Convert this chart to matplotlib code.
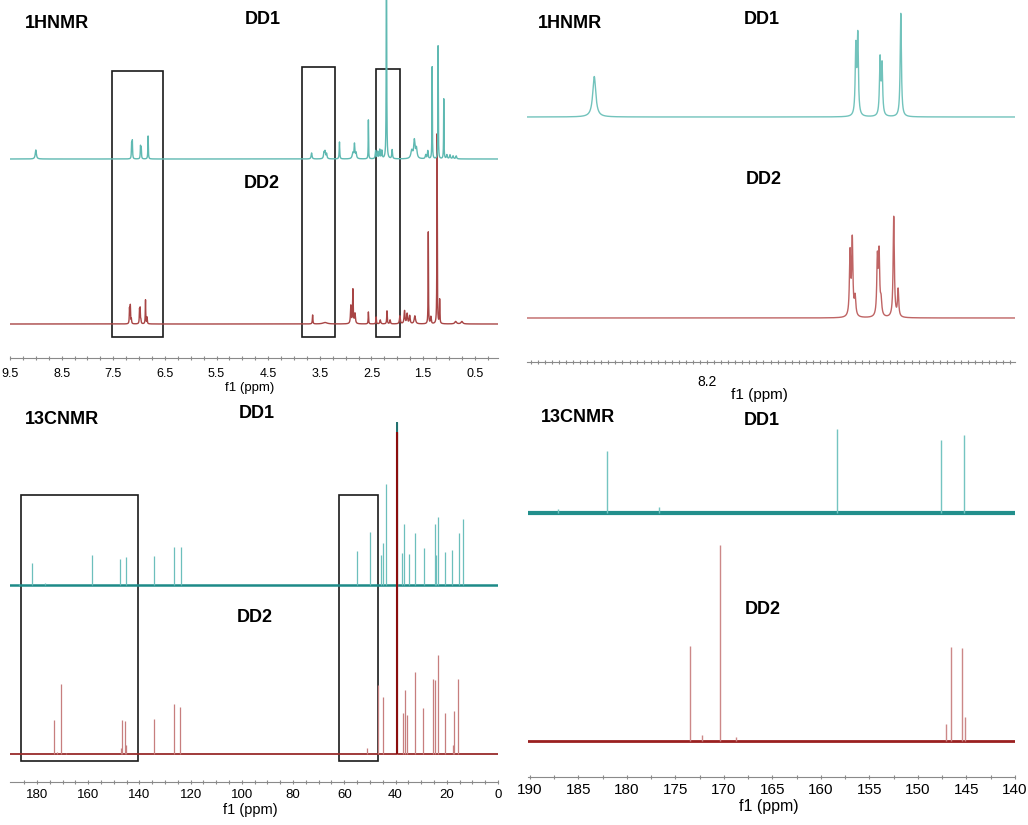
import numpy as np
import matplotlib.pyplot as plt
from matplotlib.patches import Rectangle

plt.rcParams['font.family'] = ['Liberation Sans', 'DejaVu Sans']

# ---- 1H NMR peak tables (shift ppm, height, half width ppm) ----
h1_dd1_ppm = [9.00, 7.145, 7.131, 6.973, 6.959, 6.826, 3.66, 3.42, 3.40, 3.37, 3.12,
              2.86, 2.83, 2.80, 2.56, 2.42, 2.38, 2.34, 2.30, 2.21, 2.10,
              1.72, 1.67, 1.63, 1.45, 1.41, 1.325, 1.21, 1.10, 1.04, 0.98, 0.92, 0.86]
h1_dd1_int = [9, 15, 17.5, 12.5, 11, 23, 6, 6, 7, 5, 17,
              6, 14, 6, 39, 8, 7, 9, 8, 320, 9,
              8, 18, 10, 4, 8, 92, 113, 60, 4, 4, 3, 3]
h1_dd1_hw = [0.013, 0.005, 0.005, 0.005, 0.005, 0.005, 0.01, 0.01, 0.01, 0.01, 0.006,
             0.015, 0.008, 0.012, 0.004, 0.008, 0.008, 0.008, 0.008, 0.004, 0.008,
             0.02, 0.015, 0.015, 0.01, 0.008, 0.004, 0.004, 0.004, 0.01, 0.01, 0.01, 0.01]

h1_dd2_ppm = [7.186, 7.170, 7.150, 6.992, 6.980, 6.966, 6.876, 6.845, 3.64, 3.40,
              2.90, 2.86, 2.82, 2.56, 2.41, 2.33, 2.20, 2.14, 1.95, 1.86, 1.81, 1.76,
              1.66, 1.40, 1.35, 1.23, 1.18, 0.87, 0.75]
h1_dd2_int = [15, 18, 4.5, 13.5, 14.5, 3.5, 24, 6.5, 9, 1.5,
              18, 34, 10, 12, 7, 4, 13, 4, 8, 13, 10, 8,
              8, 92, 7, 190, 24, 2.5, 2.5]
h1_dd2_hw = [0.005, 0.005, 0.006, 0.005, 0.005, 0.006, 0.005, 0.005, 0.006, 0.05,
             0.008, 0.007, 0.01, 0.005, 0.006, 0.01, 0.006, 0.008, 0.01, 0.01, 0.01, 0.01,
             0.015, 0.004, 0.008, 0.004, 0.005, 0.02, 0.02]

h1_zoom_dd1 = 4.5   # vertical expansion of the aromatic close-up
h1_zoom_dd2 = 4.2

# ---- 13C NMR peak tables (shift ppm, height) ----
c13_dd1_ppm = [187.1, 182.1, 176.7, 158.3, 147.6, 145.3, 134.3, 126.5, 123.9, 54.9, 50.0,
               45.8, 45.0, 43.7, 39.4, 37.4, 36.6, 34.6, 32.5, 29.0, 24.6, 24.3, 23.5,
               20.7, 18.0, 15.1, 13.8]
c13_dd1_int = [1.5, 22, 2, 30, 26, 28, 29, 38, 38, 34, 53,
               30, 42, 101, 163, 32, 61, 31, 52, 37, 61, 30, 68,
               33, 35, 52, 66]
c13_dd2_ppm = [173.5, 172.3, 170.4, 168.8, 147.1, 146.6, 145.5, 145.2, 134.2, 126.6, 124.2,
               51.2, 46.7, 44.8, 39.5, 37.2, 36.3, 35.5, 32.5, 29.2, 25.3, 24.5, 23.5,
               20.7, 17.7, 17.2, 15.7]
c13_dd2_int = [34, 2, 70, 1.5, 6, 33.6, 33.2, 8.6, 35, 50, 47,
               6, 69, 57, 322, 41, 64, 39, 82, 46, 75, 74, 99,
               41, 9, 43, 75]
c13_zoom = 2.8

# highlighted regions (ppm)
h1_boxes = [(7.52, 6.53), (3.84, 3.20), (2.41, 1.95)]
c13_boxes = [(186.1, 140.7), (62.1, 47.0)]

h1_ticks = [9.5, 8.5, 7.5, 6.5, 5.5, 4.5, 3.5, 2.5, 1.5, 0.5]
h1_zoom_ticks = [8.2]
c13_ticks = [180, 160, 140, 120, 100, 80, 60, 40, 20, 0]
c13_zoom_ticks = [190, 185, 180, 175, 170, 165, 160, 155, 150, 145, 140]

W, H = 1028, 825
fig = plt.figure(figsize=(W / 100, H / 100), dpi=100)


def px_axes(left, top, right, bottom):
    ax = fig.add_axes([left / W, 1 - bottom / H, (right - left) / W, (bottom - top) / H])
    ax.patch.set_alpha(0)
    for s in ['top', 'left', 'right']:
        ax.spines[s].set_visible(False)
    ax.spines['bottom'].set_color('#8a8a8a')
    ax.set_yticks([])
    return ax


def lorentz(grid, ppm, amp, hw, scale=1.0):
    y = np.zeros_like(grid)
    for p, a, w in zip(ppm, amp, hw):
        y += scale * a / (1 + ((grid - p) / w) ** 2)
    return y


def style_ticks(ax, ticks, minor, size, pad):
    ax.set_xticks(ticks)
    ax.set_xticklabels([f'{t:g}' for t in ticks], fontsize=size)
    ax.set_xticks(minor, minor=True)
    ax.tick_params(axis='x', which='both', direction='inout', color='#8a8a8a',
                   length=3, width=0.8, pad=pad)


def text(x, y, s, size=13, bold=True):
    fig.text(x / W, 1 - y / H, s, ha='center', va='center', fontsize=size,
             fontweight='bold' if bold else 'normal')


# ---- panel 1: full 1H ----
ax1 = px_axes(10, 0, 498, 358)
ax1.set_xlim(9.5, 0.05)
ax1.set_ylim(0, 358)
g1 = np.linspace(9.5, 0.05, 24000)
ax1.plot(g1, 34 + lorentz(g1, h1_dd2_ppm, h1_dd2_int, h1_dd2_hw), color='#a84545', lw=1.0)
ax1.plot(g1, 199 + lorentz(g1, h1_dd1_ppm, h1_dd1_int, h1_dd1_hw), color='#5fb9b2', lw=1.0)
for (a, b), top in zip(h1_boxes, [287, 291, 289]):
    ax1.add_patch(Rectangle((b, 21), a - b, top - 21, fill=False, ec='#1a1a1a', lw=1.2))
style_ticks(ax1, h1_ticks, [t / 4 for t in range(1, 38)], 9, 5.5)
text(57, 23, '1HNMR')
text(263, 20, 'DD1')
text(262, 184, 'DD2')
text(250, 388, 'f1 (ppm)', size=9.5, bold=False)

# ---- panel 2: aromatic 1H close-up ----
ax2 = px_axes(527, 0, 1015, 362)
ax2.set_xlim(9.477, 6.016)
ax2.set_ylim(0, 362)
g2 = np.linspace(9.477, 6.016, 12000)
ax2.plot(g2, 44 + lorentz(g2, h1_dd2_ppm, h1_dd2_int, h1_dd2_hw, h1_zoom_dd2), color='#bf6464', lw=1.0)
ax2.plot(g2, 245 + lorentz(g2, h1_dd1_ppm, h1_dd1_int, h1_dd1_hw, h1_zoom_dd1), color='#72c3bc', lw=1.0)
style_ticks(ax2, h1_zoom_ticks, [t / 20 for t in range(121, 190)], 10, 8)
text(570, 23, '1HNMR')
text(762, 20, 'DD1')
text(764, 179, 'DD2')
text(759, 395, 'f1 (ppm)', size=11, bold=False)

# ---- panel 3: full 13C ----
ax3 = px_axes(10, 400, 498, 782)
ax3.set_xlim(190.5, 0)
ax3.set_ylim(0, 382)
ax3.axhline(197, color='#1d8a88', lw=1.8)
ax3.vlines(c13_dd1_ppm, 197, [197 + h for h in c13_dd1_int], color='#6cbfbc', lw=0.9)
ax3.vlines([39.4], 197, 197 + 163, color='#1f6f6d', lw=1.4)
ax3.axhline(28, color='#982b2b', lw=1.3)
ax3.vlines(c13_dd2_ppm, 28, [28 + h for h in c13_dd2_int], color='#c77e7e', lw=0.9)
ax3.vlines([39.5], 28, 28 + 322, color='#8b0d0d', lw=1.5)
for a, b in c13_boxes:
    ax3.add_patch(Rectangle((b, 21), a - b, 266, fill=False, ec='#1a1a1a', lw=1.2))
style_ticks(ax3, c13_ticks, list(range(5, 190, 5)), 9.5, 3.5)
text(62, 420, '13CNMR')
text(257, 413, 'DD1')
text(255, 618, 'DD2')
text(250, 810, 'f1 (ppm)', size=10.5, bold=False)

# ---- panel 4: 13C close-up 190-140 ppm ----
ax4 = px_axes(528, 400, 1015, 777)
ax4.set_xlim(190.2, 140.15)
ax4.set_ylim(0, 377)
ax4.axhline(264, color='#228f8c', lw=3.0)
ax4.vlines(c13_dd1_ppm, 264, [264 + c13_zoom * h for h in c13_dd1_int], color='#74c4c1', lw=1.0)
ax4.axhline(36, color='#9a2020', lw=2.0)
ax4.vlines(c13_dd2_ppm, 36, [36 + c13_zoom * h for h in c13_dd2_int], color='#cc8888', lw=1.0)
style_ticks(ax4, c13_zoom_ticks, [t + 2.5 for t in c13_zoom_ticks[1:]], 11, 2.5)
text(578, 417, '13CNMR')
text(762, 421, 'DD1')
text(763, 610, 'DD2')
text(769, 807, 'f1 (ppm)', size=11.5, bold=False)

fig.savefig('out.png', dpi=100)
